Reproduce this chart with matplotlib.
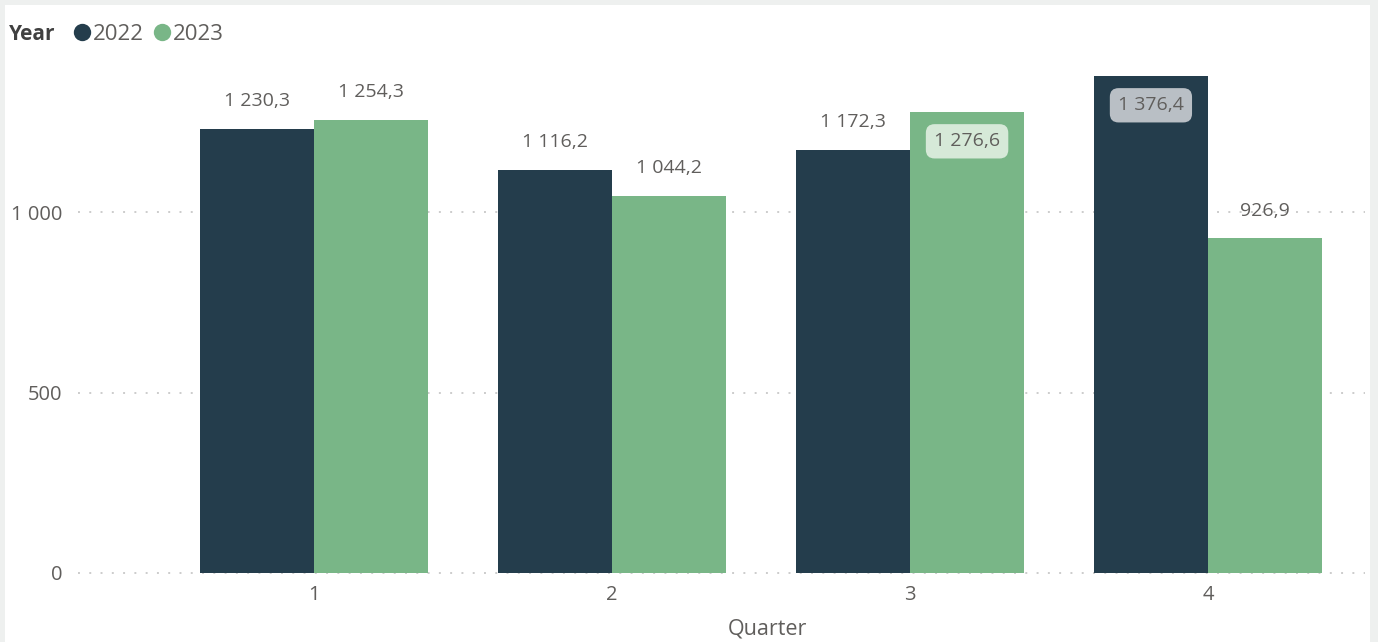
import numpy as np
import matplotlib.pyplot as plt
from matplotlib.patches import Rectangle
from matplotlib.lines import Line2D

quarters = ["1", "2", "3", "4"]
years = ["2022", "2023"]
values_2022 = [1230.3, 1116.2, 1172.3, 1376.4]
values_2023 = [1254.3, 1044.2, 1276.6, 926.9]
yticks = [0, 500, 1000]
ytick_labels = ["0", "500", "1 000"]

colors = ["#243d4c", "#79b687"]
inner_box = ["#b9bfc5", "#d6e9d8"]
txt = "#605e5c"

plt.rcParams['font.family'] = ['Open Sans', 'DejaVu Sans']


def fmt(v):
    return f"{v:,.1f}".replace(",", " ").replace(".", ",")


fig = plt.figure(figsize=(13.78, 6.42), dpi=100)
fig.patch.set_facecolor("#eef0ef")
fig.patches.append(Rectangle((5 / 1378, 0), 1365 / 1378, 637 / 642,
                             transform=fig.transFigure, facecolor="white",
                             edgecolor="none", zorder=-5))

W, H = 1378, 642
ax = fig.add_axes([165 / W, (H - 573) / H, 1192 / W, 505.4 / H])
ax.set_facecolor("none")
ax.set_xlim(-0.5, 3.5)
ax.set_ylim(0, 1400)

x = np.arange(len(quarters))
w = 0.383
series = [values_2022, values_2023]
for i, vals in enumerate(series):
    pos = x + (i - 0.5) * w
    ax.bar(pos, vals, width=w, color=colors[i], zorder=3)
    for p, v in zip(pos, vals):
        if v > 1260:
            ax.annotate(fmt(v), (p, v), xytext=(0, -21), textcoords="offset points",
                        ha="center", va="center", fontsize=14, color=txt, zorder=5,
                        bbox=dict(boxstyle="round,pad=0.42,rounding_size=0.45",
                                  facecolor=inner_box[i], edgecolor="none"))
        else:
            ax.annotate(fmt(v), (p, v), xytext=(0, 20), textcoords="offset points",
                        ha="center", va="center", fontsize=14, color=txt, zorder=5)

for t in yticks:
    ax.axhline(t, xmin=-0.073, xmax=1.007, color="#cccccc", linestyle=(0, (1, 4.8)),
               linewidth=1.4, clip_on=False, zorder=1)

ax.set_yticks(yticks)
ax.set_yticklabels(ytick_labels)
ax.set_xticks(x)
ax.set_xticklabels(quarters)
ax.tick_params(axis="y", length=0, pad=74, labelsize=14.5, labelcolor=txt)
ax.tick_params(axis="x", length=0, pad=9, labelsize=14.5, labelcolor=txt)
for s in ax.spines.values():
    s.set_visible(False)
ax.set_xlabel("Quarter", fontsize=15.5, color=txt)
ax.xaxis.set_label_coords(0.505, -0.09)

fig.text(9 / W, 1 - 34 / H, "Year", fontsize=15, fontweight="bold", color="#404040",
         va="center", ha="left")
handles = [Line2D([], [], marker="o", linestyle="none", markersize=12.5,
                  markerfacecolor=c, markeredgecolor="none") for c in colors]
fig.legend(handles, years, loc="center left", bbox_to_anchor=(60 / W, 1 - 34 / H),
           ncol=2, frameon=False, handletextpad=0.0, columnspacing=0.3,
           handlelength=1.0, fontsize=16, labelcolor=txt, borderpad=0)

plt.savefig("out.png", dpi=100)
